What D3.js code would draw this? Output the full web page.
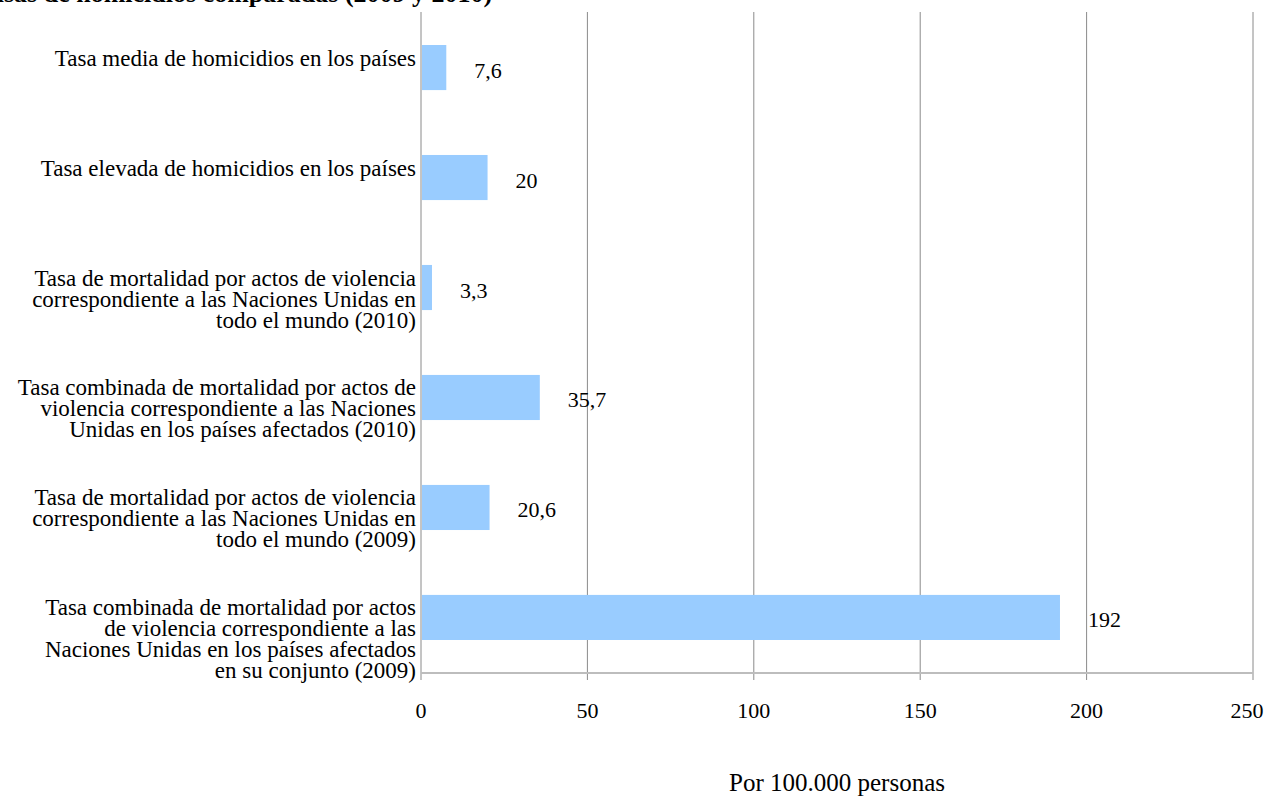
<!DOCTYPE html>
<html>
<head>
<meta charset="utf-8">
<script src="https://cdn.jsdelivr.net/npm/d3@7"></script>
<style>
  body { margin: 0; background: #fff; }
  svg { display: block; font-family: 'Liberation Serif', 'Times New Roman', serif; }
</style>
</head>
<body>
<svg id="chart" width="1266" height="796"></svg>
<script>
const TITLE = 'Tasas de homicidios comparadas (2009 y 2010)'
const X_LABEL = 'Por 100.000 personas'

// each category split in the lines it is drawn with
const categories = [
  ['Tasa media de homicidios en los países'],
  ['Tasa elevada de homicidios en los países'],
  ['Tasa de mortalidad por actos de violencia', 'correspondiente a las Naciones Unidas en', 'todo el mundo (2010)'],
  ['Tasa combinada de mortalidad por actos de', 'violencia correspondiente a las Naciones', 'Unidas en los países afectados (2010)'],
  ['Tasa de mortalidad por actos de violencia', 'correspondiente a las Naciones Unidas en', 'todo el mundo (2009)'],
  ['Tasa combinada de mortalidad por actos', 'de violencia correspondiente a las', 'Naciones Unidas en los países afectados', 'en su conjunto (2009)']
]
const values = [7.6, 20, 3.3, 35.7, 20.6, 192]
const valueLabels = ['7,6', '20', '3,3', '35,7', '20,6', '192']
const xTicks = [0, 50, 100, 150, 200, 250]

const margin = { top: 12, right: 13, bottom: 123, left: 421 }
const width = 1266
const height = 796
const aWidth = width - margin.left - margin.right
const aHeight = height - margin.top - margin.bottom

const svg = d3.select('#chart')

// title is cut by the top edge in the original
svg.append('text')
  .attr('x', -24)
  .attr('y', 2)
  .attr('font-size', 26)
  .attr('font-weight', 'bold')
  .text(TITLE)

const xScale = d3.scaleLinear().domain([0, 250]).range([0, aWidth])
const yScale = d3.scaleBand()
  .domain(categories.map((d, i) => i))
  .range([0, aHeight])
  .paddingInner(0.59)
  .paddingOuter(0.3)

const g = svg.append('g')
  .attr('transform', 'translate(' + margin.left + ',' + margin.top + ')')

// vertical grid lines
g.append('g')
  .selectAll('line')
  .data(xTicks)
  .enter().append('line')
    .attr('x1', d => xScale(d))
    .attr('x2', d => xScale(d))
    .attr('y1', 0)
    .attr('y2', aHeight + 7)
    .attr('stroke', '#8a8a8a')
    .attr('stroke-width', 1)

// bottom axis line
g.append('line')
  .attr('x1', 0)
  .attr('x2', aWidth)
  .attr('y1', aHeight)
  .attr('y2', aHeight)
  .attr('stroke', '#bdbdbd')
  .attr('stroke-width', 2)

// tick labels
g.append('g')
  .selectAll('text')
  .data(xTicks)
  .enter().append('text')
    .attr('x', d => Math.min(xScale(d), aWidth - 6))
    .attr('y', aHeight + 45)
    .attr('text-anchor', 'middle')
    .attr('font-size', 22)
    .text(d => d)

// bars
g.selectAll('.bar')
  .data(values)
  .enter().append('rect')
    .attr('class', 'bar')
    .attr('x', xScale(0) + 1)
    .attr('y', (d, i) => yScale(i))
    .attr('width', d => xScale(d) - xScale(0) - 1)
    .attr('height', yScale.bandwidth())
    .attr('fill', '#99ccff')

// value labels
g.selectAll('.val')
  .data(values)
  .enter().append('text')
    .attr('class', 'val')
    .attr('x', d => xScale(d) + 28)
    .attr('y', (d, i) => yScale(i) + yScale.bandwidth() / 2 + 10)
    .attr('font-size', 22)
    .text((d, i) => valueLabels[i])

// category labels, first line just above the bar middle
const cat = g.selectAll('.cat')
  .data(categories)
  .enter().append('text')
    .attr('class', 'cat')
    .attr('text-anchor', 'end')
    .attr('font-size', 23)
    .attr('y', (d, i) => yScale(i) + yScale.bandwidth() / 2 - 2)

cat.selectAll('tspan')
  .data(d => d)
  .enter().append('tspan')
    .attr('x', -5)
    .attr('dy', (d, j) => j === 0 ? 0 : 21)
    .text(d => d)

svg.append('text')
  .attr('x', margin.left + aWidth / 2)
  .attr('y', 791)
  .attr('text-anchor', 'middle')
  .attr('font-size', 25)
  .text(X_LABEL)
</script>
</body>
</html>
